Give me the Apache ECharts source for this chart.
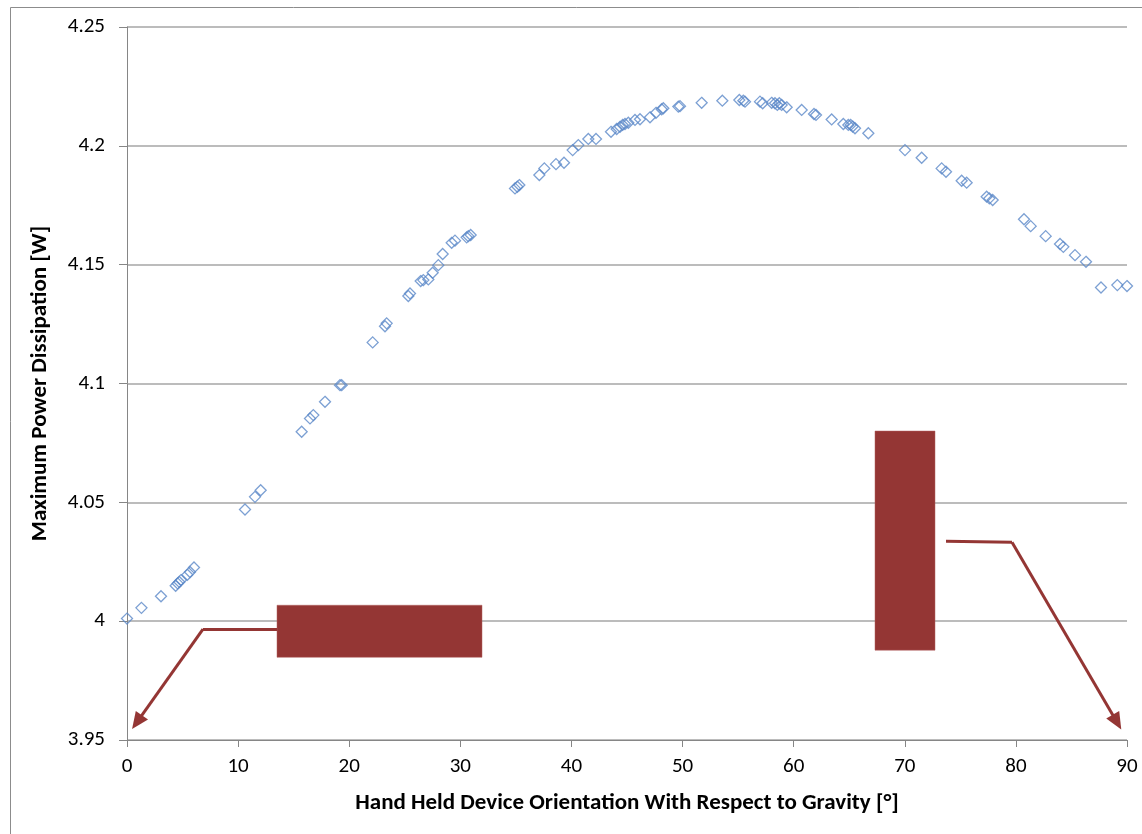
<!DOCTYPE html>
<html>
<head>
<meta charset="utf-8">
<script src="https://cdn.jsdelivr.net/npm/echarts@6/dist/echarts.min.js"></script>
<style>
  html, body { margin: 0; padding: 0; background: #fff; }
  #chart { width: 1142px; height: 834px; }
</style>
</head>
<body>
<div id="chart"></div>
<script>
// Orientation angle (degrees)
const angles = [
  0, 1.3, 3.06, 4.38, 4.56, 4.71, 4.86, 5.43, 5.67, 6.03,
  10.62, 11.52, 12.03, 15.72, 16.47, 16.77, 17.82, 19.17, 19.32, 22.11,
  23.22, 23.37, 25.32, 25.47, 26.43, 26.67, 27.12, 27.51, 28.02, 28.41,
  29.22, 29.52, 30.57, 30.72, 30.93, 34.92, 35.13, 35.31, 37.11, 37.56,
  38.61, 39.33, 40.11, 40.62, 41.52, 42.21, 43.56, 44.07, 44.37, 44.61,
  44.82, 45.12, 45.72, 46.17, 47.07, 47.61, 48.12, 48.27, 49.62, 49.77,
  51.72, 53.58, 55.11, 55.47, 55.62, 56.97, 57.21, 58.02, 58.32, 58.53,
  58.71, 58.92, 59.37, 60.72, 61.83, 62.01, 63.42, 64.47, 64.92, 65.13,
  65.31, 65.52, 66.72, 70.02, 71.52, 73.32, 73.71, 75.12, 75.57, 77.37,
  77.61, 77.91, 80.73, 81.33, 82.68, 83.97, 84.27, 85.32, 86.31, 87.66,
  89.13, 90.0
];
// Maximum power dissipation (W)
const power = [
  4.0011, 4.0056, 4.0105, 4.0149, 4.0159, 4.0165, 4.0173, 4.0195, 4.0207, 4.0226,
  4.0470, 4.0523, 4.0551, 4.0797, 4.0853, 4.0867, 4.0923, 4.0993, 4.0993, 4.1173,
  4.1241, 4.1253, 4.1368, 4.1379, 4.1431, 4.1435, 4.1438, 4.1466, 4.1498, 4.1545,
  4.1592, 4.1601, 4.1615, 4.1620, 4.1625, 4.1821, 4.1828, 4.1835, 4.1877, 4.1905,
  4.1923, 4.1929, 4.1982, 4.2003, 4.2029, 4.2029, 4.2059, 4.2071, 4.2080, 4.2088,
  4.2092, 4.2097, 4.2109, 4.2112, 4.2120, 4.2139, 4.2154, 4.2158, 4.2165, 4.2167,
  4.2181, 4.2190, 4.2193, 4.2190, 4.2186, 4.2186, 4.2179, 4.2181, 4.2179, 4.2172,
  4.2179, 4.2172, 4.2162, 4.2151, 4.2134, 4.2130, 4.2111, 4.2092, 4.2088, 4.2088,
  4.2081, 4.2074, 4.2053, 4.1982, 4.1950, 4.1905, 4.1891, 4.1853, 4.1845, 4.1786,
  4.1779, 4.1772, 4.1691, 4.1662, 4.1620, 4.1587, 4.1575, 4.1540, 4.1512, 4.1404,
  4.1414, 4.1410
];
const xTicks = [0, 10, 20, 30, 40, 50, 60, 70, 80, 90];
const yTicks = [3.95, 4, 4.05, 4.1, 4.15, 4.2, 4.25];

// Annotation boxes (data coordinates): [x1, y1, x2, y2]
const annotationBoxes = [
  [13.5, 4.0067, 31.95, 3.9848],
  [67.32, 4.0800, 72.72, 3.9878]
];
// Annotation arrows (data coordinates): polyline points, arrow at the last point
const annotationArrows = [
  [[13.5, 3.99663], [6.84, 3.99663], [0.9, 3.9575]],
  [[73.71, 4.03367], [79.65, 4.03325], [89.1, 3.9575]]
];

const pts = angles.map((a, i) => [a, power[i]]);
const font = "Carlito, Lato, 'Liberation Sans', sans-serif";
const red = '#943634';

const markLineData = [];
annotationArrows.forEach(arr => {
  for (let i = 0; i < arr.length - 1; i++) {
    const last = i === arr.length - 2;
    markLineData.push([
      { coord: arr[i], symbol: 'none' },
      { coord: arr[i + 1], symbol: last ? 'triangle' : 'none', symbolSize: last ? [15, 17] : 0 }
    ]);
  }
});

const chart = echarts.init(document.getElementById('chart'), null, { renderer: 'canvas' });
chart.setOption({
  animation: false,
  backgroundColor: '#fff',
  graphic: [{
    type: 'rect', left: 8, top: 5,
    shape: { width: 1200, height: 900 },
    style: { fill: 'none', stroke: '#8c8c8c', lineWidth: 1 },
    z: 0
  }],
  grid: { left: 127, right: 15, top: 27, bottom: 94, containLabel: false },
  xAxis: {
    type: 'value', min: 0, max: 90, interval: 10,
    name: 'Hand Held Device Orientation With Respect to Gravity [°]',
    nameLocation: 'middle', nameGap: 52,
    nameTextStyle: { fontFamily: font, fontWeight: 'bold', fontSize: 23, color: '#000' },
    axisLine: { show: true, onZero: false, lineStyle: { color: '#868686', width: 1 } },
    axisTick: { show: true, length: 7, lineStyle: { color: '#868686' } },
    axisLabel: { margin: 16, fontFamily: font, fontSize: 21, color: '#000',
      formatter: v => xTicks.includes(v) ? String(v) : '' },
    splitLine: { show: false }
  },
  yAxis: {
    type: 'value', min: 3.95, max: 4.25, interval: 0.05,
    name: 'Maximum Power Dissipation [W]',
    nameLocation: 'middle', nameGap: 75,
    nameTextStyle: { fontFamily: font, fontWeight: 'bold', fontSize: 23, color: '#000' },
    axisLine: { show: true, lineStyle: { color: '#868686', width: 1 } },
    axisTick: { show: true, length: 8, lineStyle: { color: '#868686' } },
    axisLabel: { margin: 22, fontFamily: font, fontSize: 21, color: '#000',
      formatter: v => {
        const t = yTicks.find(k => Math.abs(k - v) < 1e-6);
        return t === undefined ? '' : String(t);
      } },
    splitLine: { show: true, lineStyle: { color: '#a6a6a6', width: 1.5 } }
  },
  series: [
    {
      type: 'scatter',
      data: pts,
      symbol: 'diamond',
      symbolSize: 11,
      itemStyle: { color: 'rgba(255,255,255,0)', borderColor: '#5b88c8', borderWidth: 1.3, opacity: 0.8 },
      z: 3
    },
    {
      type: 'scatter',
      data: [],
      silent: true,
      markArea: {
        silent: true,
        itemStyle: { color: red, borderColor: '#b0605e', borderWidth: 0.5 },
        data: annotationBoxes.map(b => [{ coord: [b[0], b[1]] }, { coord: [b[2], b[3]] }])
      },
      markLine: {
        silent: true,
        animation: false,
        lineStyle: { color: red, width: 3, type: 'solid' },
        label: { show: false },
        data: markLineData
      },
      z: 5
    }
  ]
});
</script>
</body>
</html>
